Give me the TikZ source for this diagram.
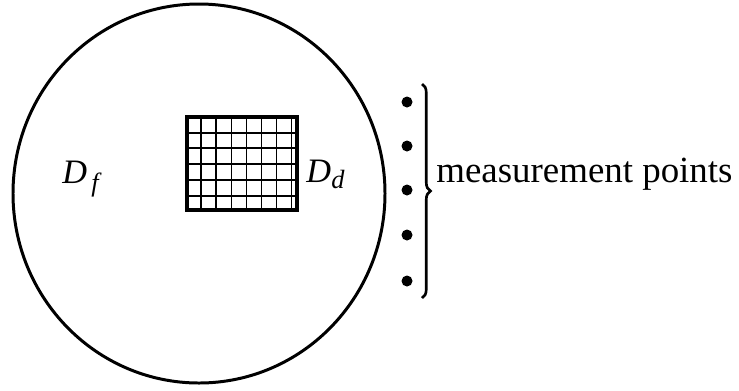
\documentclass[tikz,border=0pt]{standalone}
\usepackage{fontspec}
\setmainfont{Liberation Serif}
\usetikzlibrary{positioning,decorations.pathreplacing,calc}

\begin{document}
\begin{tikzpicture}[
    x=0.02cm, y=-0.02cm,
    region/.style={draw,line width=1.7pt},
    meshline/.style={draw,line width=1.1pt,black},
    meshframe/.style={draw,line width=2.3pt},
    sensor/.style={circle,fill=black,inner sep=0pt,minimum size=0.22cm},
    lbl/.style={inner sep=0pt,font=\fontsize{19.5}{22}\selectfont\itshape},
    sublbl/.style={inner sep=0pt,font=\fontsize{15}{18}\selectfont\itshape},
    txt/.style={inner sep=0pt,font=\fontsize{21}{25}\selectfont},
]
    \useasboundingbox (0,0) rectangle (739,390);

    % outer domain
    \draw[region] (199,193.5) ellipse [x radius=186, y radius=189.5];

    % mesh of the inner domain
    \foreach \gx in {201,216,231.5,246.5,261.5,276.5,291.5}
        \draw[meshline] (\gx,117) -- (\gx,210);
    \foreach \gy in {132.7,148.3,164.3,180,196}
        \draw[meshline] (187,\gy) -- (297,\gy);
    \draw[meshframe] (187,117) rectangle (297,210);

    % labels of the two domains
    \node[lbl,anchor=base west] (Df) at (62,183) {D};
    \node[sublbl,anchor=base west] (Dfsub) at (91,191) {f};
    \node[lbl,anchor=base west] (Dd) at (306,182) {D};
    \node[sublbl,anchor=base west] (Ddsub) at (331,188) {d};

    % measurement points
    \foreach \py [count=\i] in {102,146,190,235,281}
        \node[sensor] (p\i) at (407,\py) {};

    \coordinate (btop) at (422,84);
    \coordinate (bbot) at (422,298);
    \draw[line width=1.5pt,decorate,decoration={brace,amplitude=0.17cm}] (btop) -- (bbot);

    \node[txt,anchor=base west] (meas) at (436,182) {measurement points};
\end{tikzpicture}
\end{document}
